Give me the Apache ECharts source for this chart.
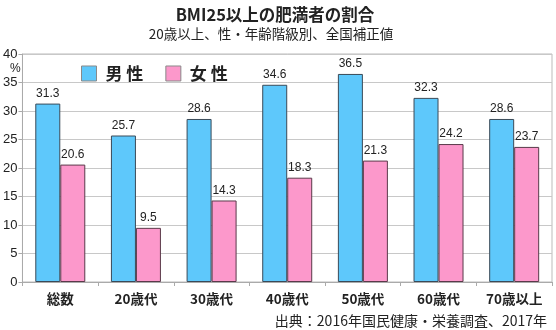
<!DOCTYPE html>
<html><head><meta charset="utf-8">
<script src="https://cdn.jsdelivr.net/npm/echarts@6/dist/echarts.min.js"></script>
<style>html,body{margin:0;padding:0;background:#fff}#c{width:556px;height:330px}</style>
</head><body><div id="c"></div>
<script>
const categories = ['総数','20歳代','30歳代','40歳代','50歳代','60歳代','70歳以上'];
const male = [31.3, 25.7, 28.6, 34.6, 36.5, 32.3, 28.6];
const female = [20.6, 9.5, 14.3, 18.3, 21.3, 24.2, 23.7];
const yTicks = [0,5,10,15,20,25,30,35,40];

const font = '"Noto Sans CJK JP", "Liberation Sans", sans-serif';
const chart = echarts.init(document.getElementById('c'));
const labelCfg = {show:true, position:'top', distance:4, color:'#222', fontSize:12, fontFamily:'"Liberation Sans", Arial, sans-serif'};
chart.setOption({
  animation:false,
  title:[
    {text:'BMI25以上の肥満者の割合', left:270, top:1, textAlign:'center',
     textStyle:{fontSize:16.5, fontWeight:'bold', color:'#222', fontFamily:font}},
    {text:'20歳以上、性・年齢階級別、全国補正値', left:266, top:22, textAlign:'center',
     textStyle:{fontSize:13.5, fontWeight:'normal', color:'#222', fontFamily:font}},
    {text:'出典：2016年国民健康・栄養調査、2017年', right:4, top:309,
     textStyle:{fontSize:14, fontWeight:'normal', color:'#222', fontFamily:font}},
    {text:'%', left:5, top:58, textStyle:{fontSize:12, fontWeight:'normal', color:'#222', fontFamily:'"Liberation Sans", sans-serif'}}
  ],
  legend:{
    left:76, top:60, itemWidth:15, itemHeight:15, itemGap:22,
    icon:'rect',
    itemStyle:{borderColor:'#8a8a8a', borderWidth:1},
    textStyle:{fontSize:17, fontWeight:'bold', color:'#222', fontFamily:font, padding:[0,0,0,4]},
    data:['男 性','女 性']
  },
  grid:{left:22, right:4, top:54, bottom:48, show:true, borderColor:'#bbb', borderWidth:1},
  xAxis:{
    type:'category', data:categories,
    axisLine:{lineStyle:{color:'#aaa'}},
    axisTick:{show:true, lineStyle:{color:'#aaa'}, length:4},
    axisLabel:{fontSize:13.5, fontWeight:'bold', color:'#222', fontFamily:font, margin:10}
  },
  yAxis:{
    type:'value', min:0, max:40, interval:5,
    axisLine:{show:true, lineStyle:{color:'#aaa'}},
    axisTick:{show:true, lineStyle:{color:'#aaa'}, length:4},
    axisLabel:{fontSize:13, color:'#222', fontFamily:'"Liberation Sans", Arial, sans-serif', margin:5,
      formatter:v => yTicks.includes(v) ? String(v) : ''},
    splitLine:{lineStyle:{color:'#c8c8c8'}}
  },
  series:[
    {name:'男 性', type:'bar', data:male, barWidth:25, barGap:'0%',
     itemStyle:{color:'#5ec8fb', borderColor:'#3a4a58', borderWidth:1}, label:labelCfg},
    {name:'女 性', type:'bar', data:female, barWidth:25,
     itemStyle:{color:'#fc98cb', borderColor:'#5a3a4a', borderWidth:1}, label:labelCfg}
  ]
});
</script></body></html>
